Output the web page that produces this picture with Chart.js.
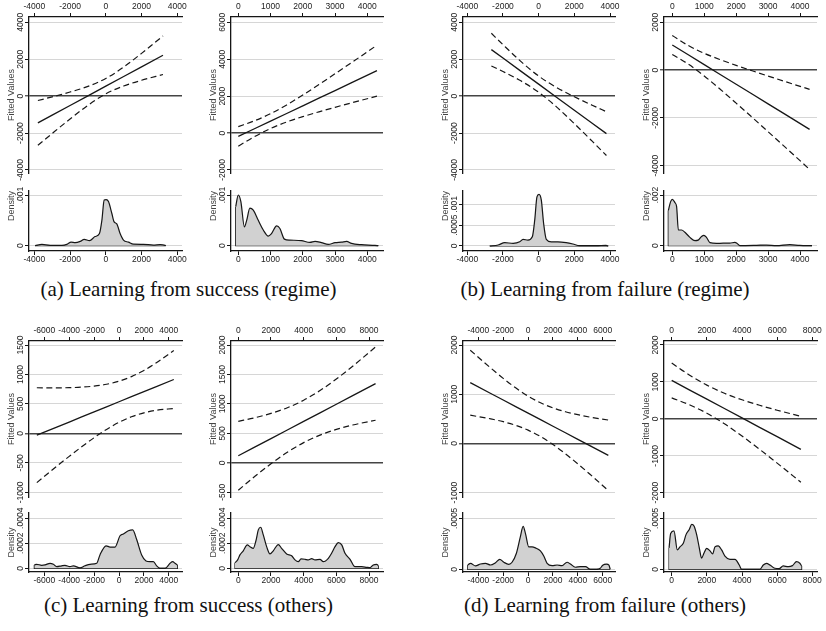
<!DOCTYPE html>
<html>
<head>
<meta charset="utf-8">
<script src="https://cdn.jsdelivr.net/npm/chart.js@4/dist/chart.umd.min.js"></script>
<style>
  html, body { margin: 0; padding: 0; background: #fff; }
  #fig { position: relative; width: 826px; height: 631px; overflow: hidden; background: #fff; }
  #fig canvas { position: absolute; }
  .cap { position: absolute; width: 420px; text-align: center; white-space: nowrap;
         font-family: "Liberation Serif", "Times New Roman", serif; font-size: 21px; line-height: 21px; color: #111; }
</style>
</head>
<body>
<div id="fig"></div>
<script>
// ---------- (a) learning from success, regime ----------
const a1X     = [-3800, -3000, -2000, -1000, 0, 1000, 2000, 3200];
const a1Fit   = [-1450, -1031, -507, 17, 541, 1065, 1589, 2218];
const a1Hi    = [-237, -40, 223, 529, 956, 1577, 2319, 3264];
const a1Lo    = [-2663, -2022, -1237, -495, 126, 553, 859, 1172];
const a1DensX = [-3950, -3575, -3110, -2460, -2180, -1940, -1710, -1430, -1210, -910, -600, -355, -220, -90, 20, 150, 335, 465, 615, 800, 990, 1270, 1545, 2100, 2660, 3035, 3315, 3350];
const a1Dens  = [0, .000026, .000007, .000007, .000026, .00007, .00006, .000085, .000125, .0001, .00018, .00024, .0005, .0009, .00091, .00087, .00064, .00047, .00043, .00024, .00011, .00007, .00003, .000026, .000013, .00002, .000007, 0];

const a2X     = [0, 500, 1000, 1500, 2000, 2500, 3000, 3500, 4300];
const a2Fit   = [-180, 234, 648, 1062, 1476, 1890, 2304, 2718, 3380];
const a2Hi    = [351, 663, 1050, 1525, 2061, 2630, 3213, 3803, 4760];
const a2Lo    = [-711, -195, 246, 599, 891, 1150, 1395, 1633, 2000];
const a2DensX = [-80, 0, 80, 190, 260, 360, 465, 620, 775, 930, 1030, 1190, 1290, 1430, 1600, 1960, 2220, 2380, 2580, 2790, 3000, 3200, 3360, 3510, 3820, 4240, 4340];
const a2Dens  = [.00077, .001, .00087, .00037, .0005, .00074, .0007, .0005, .00031, .00019, .00024, .00039, .00034, .00013, .00011, .0001, .000066, .000086, .00006, .000026, .00006, .00007, .000085, .000046, .00002, .000007, 0];

// ---------- (b) learning from failure, regime ----------
const b1X     = [-2650, -2000, -1000, 0, 1000, 2000, 3000, 3800];
const b1Fit   = [2520, 2062, 1356, 651, -54, -760, -1465, -2030];
const b1Hi    = [3406, 2790, 1883, 1091, 473, -32, -490, -843];
const b1Lo    = [1634, 1334, 829, 211, -581, -1488, -2440, -3217];
const b1DensX = [-2740, -2270, -1900, -1430, -1060, -875, -600, -355, -220, -95, 20, 150, 280, 430, 710, 1080, 1545, 1920, 2290, 3220, 3780, 3900];
const b1Dens  = [0, .000024, .00008, .000064, .0001, .00016, .00014, .00022, .00062, .00118, .00124, .0011, .00054, .00016, .0001, .0001, .00008, .000048, .000008, .000008, .000016, 0];

const b2X     = [0, 500, 1000, 1500, 2000, 2500, 3000, 3500, 4300];
const b2Fit   = [1050, 640, 229, -181, -592, -1002, -1413, -1823, -2480];
const b2Hi    = [1449, 1029, 704, 438, 198, -28, -249, -465, -806];
const b2Lo    = [651, 251, -246, -800, -1382, -1976, -2577, -3181, -4154];
const b2DensX = [-125, -52, 0, 83, 135, 190, 290, 395, 550, 710, 810, 915, 990, 1070, 1180, 1385, 1595, 1800, 1960, 2030, 2115, 2635, 2950, 3260, 3680, 3990, 4375];
const b2Dens  = [.00138, .00174, .00183, .0017, .00154, .00062, .00062, .00053, .00033, .0002, .00022, .00036, .00041, .00033, .00012, .00009, .0001, .0001, .00013, .00009, 0, .000013, .000026, 0, .00004, .000013, 0];

// ---------- (c) learning from success, others ----------
const c1X     = [-6600, -5000, -4000, -3000, -2000, -1000, 0, 1000, 2000, 3000, 4400];
const c1Fit   = [-30, 108, 193, 279, 365, 451, 537, 623, 709, 795, 915];
const c1Hi    = [775, 773, 776, 785, 803, 834, 886, 964, 1069, 1198, 1407];
const c1Lo    = [-835, -557, -390, -227, -73, 68, 188, 282, 349, 392, 423];
const c1DensX = [-6800, -6610, -6210, -5940, -5540, -5270, -5010, -4610, -4340, -3940, -3670, -3130, -2730, -2330, -1790, -1530, -1040, -720, -320, 80, 350, 750, 1100, 1420, 1820, 2170, 2490, 2760, 3030, 3290, 3700, 4100, 4310, 4500, 4690];
const c1Dens  = [.000027, .000032, .000024, .000027, .00004, .000032, .000013, .00002, .000024, .000013, .00002, .000003, .00002, .000032, .00004, .000107, .00018, .00017, .00017, .00026, .000275, .0003, .000307, .00023, .000107, .000059, .000053, .000053, .000019, 0, 0, .00004, .000053, .00004, .000027];

const c2X     = [0, 1000, 2000, 3000, 4000, 5000, 6000, 7000, 8400];
const c2Fit   = [120, 266, 412, 557, 703, 849, 995, 1141, 1345];
const c2Hi    = [705, 765, 840, 935, 1063, 1227, 1423, 1640, 1967];
const c2Lo    = [-465, -233, -16, 179, 343, 471, 567, 642, 723];
const c2DensX = [-200, -40, 100, 305, 550, 715, 920, 1080, 1225, 1370, 1530, 1735, 1940, 2140, 2450, 2650, 2960, 3265, 3470, 3670, 3840, 4080, 4285, 4490, 4690, 5000, 5200, 5510, 5710, 5920, 6120, 6330, 6530, 6840, 7140, 7550, 7860, 8060, 8260, 8470, 8570];
const c2Dens  = [.000045, .000067, .000107, .00014, .000187, .000173, .00016, .00022, .000307, .000328, .000267, .000173, .000115, .00014, .00019, .00016, .000115, .0001, .000067, .000053, .000075, .000072, .000067, .000077, .000067, .000072, .000053, .00008, .00012, .000173, .000205, .000187, .00012, .000072, .000013, .000013, .000008, .000005, .000027, .000032, .000021];

// ---------- (d) learning from failure, others ----------
const d1X     = [-4650, -3000, -2000, -1000, 0, 1000, 2000, 3000, 4000, 5000, 6450];
const d1Fit   = [1235, 1016, 883, 750, 617, 484, 351, 218, 85, -48, -240];
const d1Hi    = [1895, 1532, 1323, 1131, 963, 827, 723, 645, 585, 535, 477];
const d1Lo    = [575, 500, 443, 369, 271, 141, -21, -209, -415, -631, -957];
const d1DensX = [-4850, -4630, -4230, -3830, -3430, -3030, -2620, -2280, -1950, -1550, -1290, -940, -620, -400, -210, 50, 320, 590, 990, 1260, 1530, 1930, 2330, 2730, 3130, 3400, 3800, 4200, 4610, 5010, 5500, 5800, 6000, 6300, 6500, 6600];
const d1Dens  = [.000042, .000059, .000033, .000052, .000059, .000042, .000065, .000098, .000069, .000049, .000069, .000157, .00032, .00042, .00035, .00022, .00022, .00021, .00018, .00013, .000059, .000036, .000042, .000036, .000069, .000052, .00002, .000026, .000026, 0, 0, .00001, .00004, .00005, .00004, 0];

const d2X     = [0, 1000, 2000, 3000, 4000, 5000, 6000, 7350];
const d2Fit   = [1040, 786, 533, 279, 25, -229, -482, -825];
const d2Hi    = [1513, 1189, 913, 692, 516, 367, 234, 67];
const d2Lo    = [567, 383, 153, -134, -466, -825, -1198, -1717];
const d2DensX = [-150, -60, 130, 320, 470, 660, 815, 1000, 1140, 1270, 1420, 1575, 1700, 1840, 1990, 2180, 2330, 2460, 2650, 2840, 3030, 3315, 3600, 3845, 3980, 5020, 5210, 5400, 5590, 5870, 6120, 6340, 6630, 6870, 7100, 7290, 7390];
const d2Dens  = [.00021, .00035, .000376, .00019, .00022, .000255, .00034, .00039, .00044, .000425, .00034, .000206, .00011, .00016, .000206, .00018, .00015, .00022, .00023, .00019, .00013, .000098, .000098, .000042, 0, 0, .000042, .000059, .000042, .00001, .000007, .000033, .000026, .000036, .000075, .000059, .000033];

// ---------- tick values and labels ----------
const a1XTicks = [-4000, -2000, 0, 2000, 4000];
const a1YTicks = [-4000, -2000, 0, 2000, 4000];
const a2XTicks = [0, 1000, 2000, 3000, 4000];
const a2YTicks = [-2000, 0, 2000, 4000, 6000];
const b1XTicks = [-4000, -2000, 0, 2000, 4000];
const b1YTicks = [-4000, -2000, 0, 2000, 4000];
const b2XTicks = [0, 1000, 2000, 3000, 4000];
const b2YTicks = [-4000, -2000, 0, 2000];
const c1XTicks = [-6000, -4000, -2000, 0, 2000, 4000];
const c1YTicks = [-1000, -500, 0, 500, 1000, 1500];
const c2XTicks = [0, 2000, 4000, 6000, 8000];
const c2YTicks = [-500, 0, 500, 1000, 1500, 2000];
const d1XTicks = [-4000, -2000, 0, 2000, 4000, 6000];
const d1YTicks = [-1000, 0, 1000, 2000];
const d2XTicks = [0, 2000, 4000, 6000, 8000];
const d2YTicks = [-2000, -1000, 0, 1000, 2000];

const densTicksA   = [0, .001];        const densLabelsA   = ['0', '.001'];
const densTicksB1  = [0, .0005, .001]; const densLabelsB1  = ['0', '.0005', '.001'];
const densTicksB2  = [0, .002];        const densLabelsB2  = ['0', '.002'];
const densTicksC   = [0, .0002, .0004]; const densLabelsC  = ['0', '.0002', '.0004'];
const densTicksD   = [0, .0005];       const densLabelsD   = ['0', '.0005'];

const fitTitle  = 'Fitted Values';
const densTitle = 'Density';
const captions  = ['(a) Learning from success (regime)', '(b) Learning from failure (regime)',
                   '(c) Learning from success (others)', '(d) Learning from failure (others)'];

// ---------- drawing ----------
const SANS = "'Liberation Sans', Arial, Helvetica, sans-serif";
const TICK_PX = 8.5, TITLE_PX = 9, TICK_LEN = 4;
const YW = 30, XH = 17, PAD_R = 16, PAD_V = 8;
const INK = '#161616', GRID = '#d6d6d6', ZERO = '#444', FILL = '#d1d1d1', LABEL = '#222', TITLE_C = '#444';

Chart.defaults.font.family = SANS;

const fig = document.getElementById('fig');
const meas = document.createElement('canvas').getContext('2d');

// plot-region edges in page pixels
const COLS = [[29, 182], [231, 383], [463, 615], [664, 817]];
const FIT_ROWS = [[17, 173], [341, 497]];
const DENS_ROWS = [[191, 251], [513, 572]];

function yTickPad(labels) {
  meas.font = `${TICK_PX}px ${SANS}`;
  const w = Math.max(...labels.map(s => meas.measureText(s).width));
  return 8.6 - TICK_LEN - w / 2;
}

function addCanvas(l, t, r, b, above, below) {
  const cv = document.createElement('canvas');
  const w = r - l + YW + PAD_R, h = b - t + above + below;
  cv.width = w; cv.height = h;
  Object.assign(cv.style, { left: (l - YW) + 'px', top: (t - above) + 'px', width: w + 'px', height: h + 'px' });
  fig.appendChild(cv);
  return cv;
}

function pts(xs, ys) { return xs.map((x, i) => ({ x, y: ys[i] })); }

function fitSets(xs, fit, hi, lo) {
  const dashed = { borderColor: INK, borderWidth: 1.2, borderDash: [6, 3.5], pointRadius: 0, fill: false, cubicInterpolationMode: 'monotone' };
  return [
    { ...dashed, data: pts(xs, hi) },
    { ...dashed, data: pts(xs, lo) },
    { data: pts(xs, fit), borderColor: INK, borderWidth: 1.3, pointRadius: 0, fill: false, tension: 0 }
  ];
}

function densSets(xs, ys) {
  const n = xs.length;
  return [
    { data: pts(xs, ys), borderColor: INK, borderWidth: 1.2, backgroundColor: FILL, fill: 'origin',
      pointRadius: 0, cubicInterpolationMode: 'monotone' },
    { data: [{ x: xs[0], y: ys[0] }, { x: xs[0], y: 0 }, { x: xs[n - 1], y: 0 }, { x: xs[n - 1], y: ys[n - 1] }],
      borderColor: INK, borderWidth: 1.2, pointRadius: 0, fill: false, tension: 0 }
  ];
}

function panelChart(cv, s) {
  const isZero = c => s.zeroLine && c.tick && c.tick.value === 0;
  return new Chart(cv, {
    type: 'line',
    data: { datasets: s.datasets },
    options: {
      responsive: false, animation: false, events: [],
      layout: { padding: s.pad },
      plugins: { legend: { display: false }, tooltip: { enabled: false } },
      scales: {
        x: {
          type: 'linear', position: s.xPos, bounds: 'data', min: s.xRange[0], max: s.xRange[1],
          afterBuildTicks: sc => { sc.ticks = s.xTicks.map(v => ({ value: v })); },
          afterFit: sc => { sc.height = XH; },
          ticks: { autoSkip: false, maxRotation: 0, minRotation: 0, padding: s.xPos === 'top' ? 1 : 0,
                   font: { family: SANS, size: TICK_PX }, color: LABEL, callback: v => String(v) },
          grid: { drawOnChartArea: false, drawTicks: true, tickLength: TICK_LEN, tickColor: INK, tickWidth: 1 },
          border: { display: true, color: INK, width: 1.3 }
        },
        y: {
          type: 'linear', position: 'left', bounds: 'data', min: s.yRange[0], max: s.yRange[1],
          afterBuildTicks: sc => { sc.ticks = s.yTicks.map(v => ({ value: v })); },
          afterFit: sc => { sc.width = YW; },
          ticks: { autoSkip: false, minRotation: 90, maxRotation: 90, crossAlign: 'center',
                   padding: yTickPad(s.yLabels), font: { family: SANS, size: TICK_PX }, color: LABEL,
                   callback: (v, i) => s.yLabels[i] },
          grid: { color: c => isZero(c) ? ZERO : GRID, lineWidth: c => isZero(c) ? 1.6 : 1,
                  drawTicks: true, tickLength: TICK_LEN, tickColor: INK, tickWidth: 1 },
          border: { display: true, color: INK, width: 1.3 },
          title: { display: true, text: s.title, font: { family: SANS, size: TITLE_PX }, color: TITLE_C,
                   align: s.titleAlign, padding: { top: 7, bottom: 0 } }
        }
      }
    }
  });
}

const panels = [
  { col: 0, row: 0, fit: fitSets(a1X, a1Fit, a1Hi, a1Lo), dens: densSets(a1DensX, a1Dens),
    xTicks: a1XTicks, yTicks: a1YTicks, dTicks: densTicksA, dLabels: densLabelsA,
    xRange: [-4297, 4263], yRange: [-4163, 4288], dRange: [-.0001045, .001079] },
  { col: 1, row: 0, fit: fitSets(a2X, a2Fit, a2Hi, a2Lo), dens: densSets(a2DensX, a2Dens),
    xTicks: a2XTicks, yTicks: a2YTicks, dTicks: densTicksA, dLabels: densLabelsA,
    xRange: [-226, 4487], yRange: [-2163, 6288], dRange: [-.0001045, .001079] },
  { col: 2, row: 0, fit: fitSets(b1X, b1Fit, b1Hi, b1Lo), dens: densSets(b1DensX, b1Dens),
    xTicks: b1XTicks, yTicks: b1YTicks, dTicks: densTicksB1, dLabels: densLabelsB1,
    xRange: [-4240, 4280], yRange: [-4163, 4288], dRange: [-.00012, .001319] },
  { col: 3, row: 0, fit: fitSets(b2X, b2Fit, b2Hi, b2Lo), dens: densSets(b2DensX, b2Dens),
    xTicks: b2XTicks, yTicks: b2YTicks, dTicks: densTicksB2, dLabels: densLabelsB2,
    xRange: [-260, 4532], yRange: [-4305, 2222], dRange: [-.000209, .002158] },
  { col: 0, row: 1, fit: fitSets(c1X, c1Fit, c1Hi, c1Lo), dens: densSets(c1DensX, c1Dens),
    xTicks: c1XTicks, yTicks: c1YTicks, dTicks: densTicksC, dLabels: densLabelsC,
    xRange: [-7229, 5060], yRange: [-1079, 1568], dRange: [-.0000296, .000442] },
  { col: 1, row: 1, fit: fitSets(c2X, c2Fit, c2Hi, c2Lo), dens: densSets(c2DensX, c2Dens),
    xTicks: c2XTicks, yTicks: c2YTicks, dTicks: densTicksC, dLabels: densLabelsC,
    xRange: [-446, 8855], yRange: [-580, 2068], dRange: [-.0000296, .000442] },
  { col: 2, row: 1, fit: fitSets(d1X, d1Fit, d1Hi, d1Lo), dens: densSets(d1DensX, d1Dens),
    xTicks: d1XTicks, yTicks: d1YTicks, dTicks: densTicksD, dLabels: densLabelsD,
    xRange: [-5233, 6986], yRange: [-1087, 2082], dRange: [-.0000265, .000552] },
  { col: 3, row: 1, fit: fitSets(d2X, d2Fit, d2Hi, d2Lo), dens: densSets(d2DensX, d2Dens),
    xTicks: d2XTicks, yTicks: d2YTicks, dTicks: densTicksD, dLabels: densLabelsD,
    xRange: [-438, 8267], yRange: [-2116, 2108], dRange: [-.0000265, .000552] }
];

panels.forEach(p => {
  const [l, r] = COLS[p.col];
  const [ft, fb] = FIT_ROWS[p.row];
  const [dt, db] = DENS_ROWS[p.row];

  panelChart(addCanvas(l, ft, r, fb, XH, PAD_V), {
    datasets: p.fit, xPos: 'top', xRange: p.xRange, yRange: p.yRange,
    xTicks: p.xTicks, yTicks: p.yTicks, yLabels: p.yTicks.map(String),
    title: fitTitle, titleAlign: 'center', zeroLine: true,
    pad: { left: 0, top: 0, right: PAD_R, bottom: PAD_V }
  });

  panelChart(addCanvas(l, dt, r, db, PAD_V, XH), {
    datasets: p.dens, xPos: 'bottom', xRange: p.xRange, yRange: p.dRange,
    xTicks: p.xTicks, yTicks: p.dTicks, yLabels: p.dLabels,
    title: densTitle, titleAlign: p.row === 0 ? 'end' : 'center', zeroLine: false,
    pad: { left: 0, top: PAD_V, right: PAD_R, bottom: 0 }
  });
});

// sub-figure captions
const capCenters = [188.5, 605];
const capBaselines = [297, 613];
captions.forEach((text, i) => {
  const d = document.createElement('div');
  d.className = 'cap';
  d.textContent = text;
  d.style.left = (capCenters[i % 2] - 210) + 'px';
  d.style.top = (capBaselines[Math.floor(i / 2)] - 17.6) + 'px';
  fig.appendChild(d);
});
</script>
</body>
</html>
